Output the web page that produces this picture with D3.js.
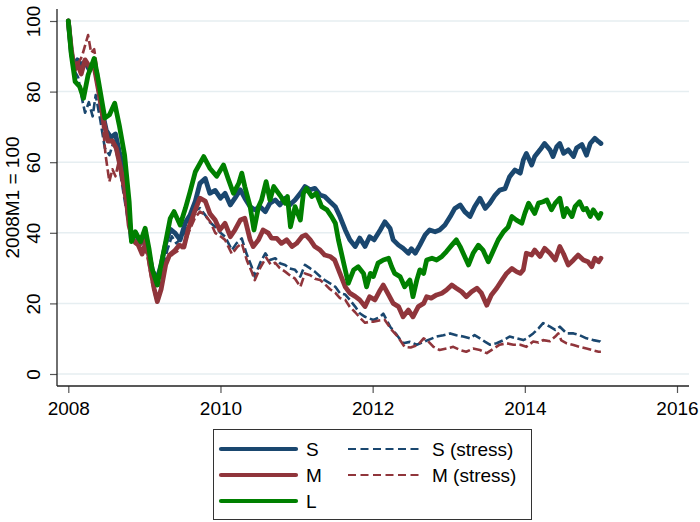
<!DOCTYPE html>
<html>
<head>
<meta charset="utf-8">
<script src="https://cdn.jsdelivr.net/npm/d3@7"></script>
<style>
  body { margin: 0; background: #fff; }
  text { font-family: "Liberation Sans", Arial, sans-serif; fill: #000; }
</style>
</head>
<body>
<div id="chart"></div>
<script>
// Values: [decimal year, index (2008M1 = 100)]
const seriesS = [
  [2008.00,100],[2008.04,91],[2008.08,87],[2008.12,89],[2008.17,87.5],[2008.22,88.5],[2008.28,86],[2008.34,88],
  [2008.40,81],[2008.45,74],[2008.50,69],[2008.56,67],[2008.62,68],[2008.67,63],[2008.73,58],[2008.78,48],
  [2008.83,38],[2008.88,40],[2008.95,37],[2009.01,39],[2009.06,34],[2009.11,29],[2009.17,27],[2009.22,31],
  [2009.28,37],[2009.34,41],[2009.40,40],[2009.47,38],[2009.54,43],[2009.60,45],[2009.67,49],[2009.73,54],
  [2009.80,55.4],[2009.86,51.2],[2009.93,52],[2010.00,49.8],[2010.06,51.2],[2010.13,47.9],[2010.19,49.8],
  [2010.26,52.2],[2010.32,49.8],[2010.39,47.4],[2010.45,46.5],[2010.52,47.4],[2010.59,46],[2010.65,48.4],
  [2010.72,49.3],[2010.78,47.9],[2010.85,49.8],[2010.91,47.9],[2010.98,49.3],[2011.05,51.2],[2011.11,53.1],
  [2011.18,52.2],[2011.24,52.6],[2011.31,50.7],[2011.37,50.3],[2011.44,48.8],[2011.51,47.4],[2011.57,44.6],
  [2011.64,40.8],[2011.70,38],[2011.77,36.1],[2011.83,38.5],[2011.90,36.1],[2011.96,38.9],[2012.02,38],
  [2012.10,40.8],[2012.16,43.1],[2012.23,41.2],[2012.27,38],[2012.34,36.5],[2012.40,35.6],[2012.47,34.2],
  [2012.51,35.5],[2012.56,34.2],[2012.62,36.5],[2012.69,39.4],[2012.75,40.8],[2012.82,40.3],[2012.88,40.8],
  [2012.95,42.2],[2013.02,44.6],[2013.08,46.9],[2013.15,47.9],[2013.21,46],[2013.28,44.6],[2013.34,47.4],
  [2013.41,49.8],[2013.48,46.9],[2013.54,48.4],[2013.61,50.7],[2013.67,52.1],[2013.74,52.5],[2013.80,55.9],
  [2013.87,57.8],[2013.94,56.9],[2013.98,60.6],[2014.02,62.5],[2014.09,59.2],[2014.13,61.6],[2014.20,63.5],
  [2014.26,65.3],[2014.33,63.5],[2014.37,61.6],[2014.42,64.4],[2014.46,65.3],[2014.51,62.5],[2014.57,63.5],
  [2014.64,61.6],[2014.68,64],[2014.75,65],[2014.81,62],[2014.86,65.3],[2014.92,66.8],[2014.97,65.8],[2015.00,65.3]
];

const seriesM = [
  [2008.00,100],[2008.04,92],[2008.08,86],[2008.12,88],[2008.17,85],[2008.22,89],[2008.28,87],[2008.34,87],
  [2008.40,80],[2008.46,72],[2008.52,66],[2008.58,66],[2008.63,64],[2008.69,58],[2008.75,52],[2008.80,42],
  [2008.85,38],[2008.91,37],[2008.97,34],[2009.03,38],[2009.08,30],[2009.13,24],[2009.17,20.5],[2009.22,24],
  [2009.28,31],[2009.33,33.7],[2009.40,35],[2009.46,36.5],[2009.52,36],[2009.58,41.3],[2009.66,46],
  [2009.73,49.8],[2009.80,49],[2009.86,45.5],[2009.93,43.6],[2009.99,40.8],[2010.06,42.7],[2010.13,38.9],
  [2010.19,40.8],[2010.26,43.6],[2010.32,44.1],[2010.39,38],[2010.43,36.1],[2010.50,38],[2010.56,40.8],
  [2010.63,39.9],[2010.67,38.5],[2010.74,38.4],[2010.80,37],[2010.87,38],[2010.94,36.1],[2011.00,37],
  [2011.07,38.9],[2011.12,39.4],[2011.18,38],[2011.24,36.1],[2011.31,35.1],[2011.37,33.7],[2011.44,33.3],
  [2011.50,32.3],[2011.57,28.5],[2011.64,24.7],[2011.70,22.9],[2011.77,22],[2011.83,21],[2011.90,19.1],
  [2011.96,21.9],[2012.03,21],[2012.10,23.8],[2012.14,25.2],[2012.21,22.4],[2012.27,20],[2012.34,19.1],
  [2012.40,16.2],[2012.47,18.1],[2012.53,16.2],[2012.60,19.1],[2012.67,20],[2012.71,21.9],[2012.77,21.5],
  [2012.84,22.4],[2012.91,22.9],[2012.97,23.8],[2013.04,25.2],[2013.10,24.3],[2013.17,23.3],[2013.23,21.9],
  [2013.30,23.3],[2013.37,24.3],[2013.43,22.9],[2013.50,19.5],[2013.56,22.4],[2013.63,24.3],[2013.70,26.6],
  [2013.76,28.5],[2013.83,29.9],[2013.89,29],[2013.94,28.5],[2013.98,29.5],[2014.02,34.2],[2014.09,33.7],
  [2014.13,35.1],[2014.20,33.3],[2014.26,35.6],[2014.33,34.2],[2014.40,32.3],[2014.46,36.1],[2014.51,34],
  [2014.57,30.9],[2014.64,32.3],[2014.70,33.7],[2014.77,32.3],[2014.83,31.8],[2014.88,30.4],[2014.92,32.8],
  [2014.97,31.8],[2015.00,32.8]
];

const seriesL = [
  [2008.00,100],[2008.04,90.4],[2008.09,82.8],[2008.15,81.4],[2008.20,78.1],[2008.26,84.7],[2008.34,89.4],
  [2008.39,83.8],[2008.48,72.5],[2008.54,73.4],[2008.61,76.7],[2008.67,70.5],[2008.74,62],[2008.80,48.8],
  [2008.83,37.5],[2008.88,40.3],[2008.95,37.5],[2009.01,41.3],[2009.06,35.6],[2009.10,29.9],[2009.17,25.2],
  [2009.21,29.9],[2009.28,37.5],[2009.34,44.1],[2009.39,46],[2009.47,42.2],[2009.54,47],[2009.60,51.6],
  [2009.67,57.3],[2009.78,61.6],[2009.86,58.3],[2009.95,56],[2010.04,59.2],[2010.10,55.4],[2010.17,51.2],
  [2010.24,54],[2010.28,56.9],[2010.32,53.1],[2010.39,47.4],[2010.44,40.8],[2010.50,47.4],[2010.54,49.3],
  [2010.60,54.5],[2010.65,49.3],[2010.70,53.1],[2010.78,50.7],[2010.85,48.4],[2010.88,50.3],[2010.92,41.7],
  [2010.98,47.4],[2011.05,43.6],[2011.09,51.2],[2011.13,52.6],[2011.20,50.3],[2011.26,51.2],[2011.33,47.4],
  [2011.40,46.5],[2011.46,44.6],[2011.51,42.7],[2011.55,38],[2011.61,32.3],[2011.68,25.7],[2011.75,29.5],
  [2011.81,30.4],[2011.88,28.5],[2011.92,24.7],[2011.97,28.5],[2012.01,27.6],[2012.07,31.4],[2012.14,32.3],
  [2012.21,32.8],[2012.25,30.4],[2012.29,28.5],[2012.36,27.6],[2012.42,24.7],[2012.49,26.6],[2012.53,21.9],
  [2012.58,26.6],[2012.62,29.5],[2012.67,28.5],[2012.71,32.3],[2012.78,32.8],[2012.84,32.3],[2012.91,33.3],
  [2012.97,34.7],[2013.04,36.5],[2013.10,38],[2013.15,36.1],[2013.19,34.2],[2013.26,30.9],[2013.32,34.2],
  [2013.39,36.5],[2013.45,35.1],[2013.52,31.8],[2013.59,35.1],[2013.65,38],[2013.72,40.3],[2013.78,41.6],
  [2013.83,44.6],[2013.89,43.6],[2013.96,42.7],[2014.00,45.5],[2014.05,48.4],[2014.09,46.9],[2014.13,45.5],
  [2014.18,48.4],[2014.24,48.8],[2014.29,49.3],[2014.35,46.5],[2014.40,48.4],[2014.46,49.8],[2014.51,44.6],
  [2014.55,46.9],[2014.62,44.6],[2014.66,47.4],[2014.72,48.8],[2014.77,46.5],[2014.81,46.9],[2014.86,44.6],
  [2014.90,46.5],[2014.97,44.1],[2015.00,45.5]
];

const seriesSstress = [
  [2008.00,100],[2008.04,90],[2008.08,86],[2008.13,84],[2008.18,78],[2008.22,74],[2008.27,77],[2008.32,73],
  [2008.36,79],[2008.42,72],[2008.48,64],[2008.54,62],[2008.60,66],[2008.66,60],[2008.72,52],[2008.78,44],
  [2008.84,37],[2008.90,38],[2008.96,35],[2009.02,37],[2009.08,31],[2009.13,27],[2009.18,25],[2009.23,29],
  [2009.30,35],[2009.36,39],[2009.42,37],[2009.50,39],[2009.57,42],[2009.64,46],[2009.73,47],[2009.80,45],
  [2009.86,43],[2009.93,41.7],[2010.00,40],[2010.06,38.9],[2010.15,35.1],[2010.21,37],[2010.28,38.4],
  [2010.34,34.2],[2010.41,30.4],[2010.45,27.6],[2010.52,31.4],[2010.59,34.2],[2010.65,32.3],[2010.72,32.8],
  [2010.78,31.4],[2010.85,30.9],[2010.91,29.9],[2010.98,29.5],[2011.05,27.6],[2011.11,30.9],[2011.18,29.9],
  [2011.24,29],[2011.31,27.6],[2011.37,26.6],[2011.44,25.7],[2011.51,24.7],[2011.57,22.9],[2011.64,22.5],
  [2011.70,21],[2011.77,19.1],[2011.83,17.2],[2011.90,16.2],[2011.96,15.7],[2012.01,15.3],[2012.10,16.2],
  [2012.14,17.1],[2012.23,13.4],[2012.32,11],[2012.40,8.7],[2012.49,9.1],[2012.58,8.3],[2012.67,9.1],
  [2012.75,9.8],[2012.84,10.6],[2012.93,11],[2013.02,11.5],[2013.10,11],[2013.19,10.6],[2013.28,10.1],
  [2013.34,11],[2013.41,10.1],[2013.48,9.1],[2013.54,8.3],[2013.63,8.7],[2013.72,9.6],[2013.80,10.6],
  [2013.89,10.1],[2013.98,9.6],[2014.02,10],[2014.11,11.5],[2014.18,12.9],[2014.24,14.4],[2014.33,13.4],
  [2014.40,12.5],[2014.46,13.4],[2014.55,11.5],[2014.64,11.5],[2014.72,11],[2014.81,10.1],[2014.90,9.6],
  [2014.99,9.2],[2015.00,9]
];

const seriesMstress = [
  [2008.00,100],[2008.04,92],[2008.08,87],[2008.13,88],[2008.18,90],[2008.22,93],[2008.26,96],[2008.30,91],
  [2008.34,92],[2008.39,85],[2008.44,74],[2008.49,62],[2008.54,54.5],[2008.58,58],[2008.62,56],[2008.66,60],
  [2008.71,54],[2008.77,46],[2008.82,39],[2008.87,37],[2008.93,36],[2008.99,38],[2009.05,32],[2009.10,26],
  [2009.15,21.5],[2009.20,23],[2009.26,30],[2009.32,33],[2009.38,34],[2009.45,35],[2009.52,36],[2009.58,40],
  [2009.66,44],[2009.73,46],[2009.80,45],[2009.87,43],[2009.93,40],[2010.00,39],[2010.06,38],[2010.15,34],
  [2010.22,36],[2010.28,37],[2010.35,32],[2010.41,29],[2010.45,26.6],[2010.52,30],[2010.60,33],[2010.66,31],
  [2010.72,31.5],[2010.78,30],[2010.85,29],[2010.91,28],[2010.98,27],[2011.05,24.7],[2011.11,28.5],
  [2011.18,28],[2011.24,27],[2011.31,26.6],[2011.37,25.5],[2011.44,24],[2011.51,23],[2011.57,21.5],
  [2011.64,21],[2011.70,19],[2011.77,17.5],[2011.83,16],[2011.90,14.5],[2011.96,14.8],[2012.01,14.8],
  [2012.10,15.2],[2012.16,15.3],[2012.25,12.5],[2012.33,10.6],[2012.42,7.7],[2012.50,7.5],[2012.60,8.3],
  [2012.67,10.1],[2012.72,9.5],[2012.80,7.7],[2012.88,6.8],[2012.97,7.2],[2013.06,7.7],[2013.15,6.8],
  [2013.23,6.3],[2013.32,7.2],[2013.41,6.8],[2013.50,5.9],[2013.59,7.2],[2013.67,8.3],[2013.76,8.7],
  [2013.85,8.3],[2013.94,8.3],[2014.02,7.7],[2014.11,9.2],[2014.18,8.9],[2014.24,9.6],[2014.33,9.3],
  [2014.40,10.6],[2014.44,11.5],[2014.48,9.5],[2014.55,8.7],[2014.64,8.2],[2014.72,7.7],[2014.81,7.2],
  [2014.88,6.8],[2014.97,6.3],[2015.00,6.3]
];

const xTicks = [2008, 2010, 2012, 2014, 2016];
const yTicks = [0, 20, 40, 60, 80, 100];
const yTitle = "2008M1 = 100";

// drawing order follows the legend order, L on top
const series = [
  { name: "S",          data: seriesS,       color: "#1a476f", dashed: false },
  { name: "S (stress)", data: seriesSstress, color: "#1a476f", dashed: true },
  { name: "M",          data: seriesM,       color: "#90353b", dashed: false },
  { name: "M (stress)", data: seriesMstress, color: "#90353b", dashed: true },
  { name: "L",          data: seriesL,       color: "#008000", dashed: false }
];

const WIDTH = 700, HEIGHT = 522;
const plot = { left: 57, right: 689, top: 9, bottom: 386 };

const svg = d3.select("#chart").append("svg")
  .attr("width", WIDTH)
  .attr("height", HEIGHT);

svg.append("rect").attr("width", WIDTH).attr("height", HEIGHT).attr("fill", "#fff");

const x = d3.scaleLinear().domain([2008, 2016]).range([68.3, 677]);
const y = d3.scaleLinear().domain([0, 100]).range([374, 21]);

// gridlines
svg.append("g")
  .selectAll("line")
  .data(yTicks)
  .enter().append("line")
  .attr("x1", plot.left).attr("x2", plot.right)
  .attr("y1", d => y(d)).attr("y2", d => y(d))
  .attr("stroke", "#e6eef1")
  .attr("stroke-width", 1.5);

// lines
const line = d3.line().x(d => x(d[0])).y(d => y(d[1]));

svg.append("g")
  .selectAll("path")
  .data(series)
  .enter().append("path")
  .attr("d", d => line(d.data))
  .attr("fill", "none")
  .attr("stroke", d => d.color)
  .attr("stroke-width", d => d.dashed ? 2.6 : 4.8)
  .attr("stroke-dasharray", d => d.dashed ? "9,3.5" : null)
  .attr("stroke-linejoin", "round")
  .attr("stroke-linecap", d => d.dashed ? "butt" : "round");

// y axis
const yAxis = d3.axisLeft(y).tickValues(yTicks).tickSize(7).tickSizeOuter(0);
const gy = svg.append("g").attr("transform", `translate(${plot.left},0)`).call(yAxis);
gy.select(".domain").remove();
gy.selectAll(".tick line").attr("stroke", "#555").attr("stroke-width", 1.2);
gy.selectAll(".tick text")
  .attr("x", 0).attr("dy", 0)
  .attr("transform", "translate(-17,0) rotate(-90)")
  .attr("text-anchor", "middle")
  .style("font-size", "19px")
  .style("font-family", '"Liberation Sans", Arial, sans-serif')
  .attr("fill", "#000");
svg.append("line")
  .attr("x1", plot.left).attr("x2", plot.left)
  .attr("y1", plot.top).attr("y2", plot.bottom)
  .attr("stroke", "#222").attr("stroke-width", 1.3);

// x axis
const xAxis = d3.axisBottom(x).tickValues(xTicks).tickFormat(d3.format("d")).tickSize(7).tickSizeOuter(0);
const gx = svg.append("g").attr("transform", `translate(0,${plot.bottom})`).call(xAxis);
gx.select(".domain").remove();
gx.selectAll(".tick line").attr("stroke", "#555").attr("stroke-width", 1.2);
gx.selectAll(".tick text")
  .attr("y", 29).attr("dy", 0)
  .style("font-size", "19px")
  .style("font-family", '"Liberation Sans", Arial, sans-serif')
  .attr("fill", "#000");
svg.append("line")
  .attr("x1", plot.left).attr("x2", plot.right)
  .attr("y1", plot.bottom).attr("y2", plot.bottom)
  .attr("stroke", "#222").attr("stroke-width", 1.3);

// y title
svg.append("text")
  .attr("transform", `translate(18.5,${(plot.top + plot.bottom) / 2}) rotate(-90)`)
  .attr("text-anchor", "middle")
  .style("font-size", "19px")
  .text(yTitle);

// legend
const legend = svg.append("g");
legend.append("rect")
  .attr("x", 213.5).attr("y", 429.5)
  .attr("width", 318).attr("height", 90)
  .attr("fill", "#fff")
  .attr("stroke", "#333").attr("stroke-width", 1);

const legendPos = [
  { s: series[0], col: 0, row: 0 },
  { s: series[1], col: 1, row: 0 },
  { s: series[2], col: 0, row: 1 },
  { s: series[3], col: 1, row: 1 },
  { s: series[4], col: 0, row: 2 }
];
const colX = [{ x1: 221, x2: 296, tx: 306 }, { x1: 348, x2: 422, tx: 432 }];
const rowY = [449, 475, 501];

const items = legend.selectAll("g.item")
  .data(legendPos)
  .enter().append("g").attr("class", "item");

items.append("line")
  .attr("x1", d => colX[d.col].x1).attr("x2", d => colX[d.col].x2)
  .attr("y1", d => rowY[d.row]).attr("y2", d => rowY[d.row])
  .attr("stroke", d => d.s.color)
  .attr("stroke-width", d => d.s.dashed ? 2.2 : 4.2)
  .attr("stroke-dasharray", d => d.s.dashed ? "8,4.5" : null)
  .attr("stroke-linecap", d => d.s.dashed ? "butt" : "round");

items.append("text")
  .attr("x", d => colX[d.col].tx)
  .attr("y", d => rowY[d.row] + 7)
  .style("font-size", "19px")
  .text(d => d.s.name);
</script>
</body>
</html>
